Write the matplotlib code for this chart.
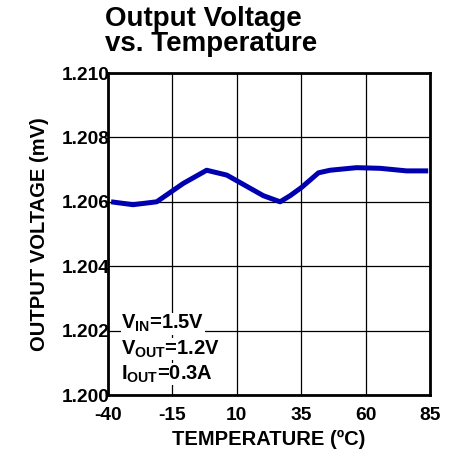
import matplotlib
matplotlib.use("Agg")
import matplotlib.pyplot as plt

plt.rcParams["font.family"] = ["Liberation Sans", "DejaVu Sans"]
plt.rcParams["mathtext.fontset"] = "custom"
plt.rcParams["mathtext.rm"] = "Liberation Sans:bold"
plt.rcParams["mathtext.it"] = "Liberation Sans:bold"
plt.rcParams["axes.unicode_minus"] = False

# curve
temp_c = [-38.8, -30.3, -21.1, -10.8, -1.7, 6.1, 20.3, 26.8, 30.7, 35.2,
          41.7, 46.2, 56.5, 65.6, 75.9, 84.3]
vout = [1.2060, 1.20591, 1.2060, 1.20657, 1.20698, 1.20683, 1.20619, 1.2060,
        1.20619, 1.20645, 1.2069, 1.20698, 1.20706, 1.20704, 1.20696, 1.20696]

x_ticks = [-40, -15, 10, 35, 60, 85]
y_ticks = [1.200, 1.202, 1.204, 1.206, 1.208, 1.210]
notes = [r"$\mathrm{V_{IN}}$=1.5V", r"$\mathrm{V_{OUT}}$=1.2V", r"$\mathrm{I_{OUT}}$=0.3A"]
note_y = [1.20221, 1.20143, 1.20065]

fig = plt.figure(figsize=(4.53, 4.62), dpi=100)
ax = fig.add_axes([108 / 453, 67 / 462, 322 / 453, 322 / 462])

ax.plot(temp_c, vout, color="#0000b0", linewidth=3.6, solid_capstyle="butt", zorder=3)

ax.set_xlim(-40, 85)
ax.set_ylim(1.200, 1.210)
ax.set_xticks(x_ticks)
ax.set_yticks(y_ticks)
ax.set_yticklabels([f"{v:.3f}" for v in y_ticks])
ax.tick_params(length=0, labelsize=13.8, pad=-1)
ax.tick_params(axis="x", pad=9)
for lab in ax.get_xticklabels() + ax.get_yticklabels():
    lab.set_fontweight("bold")
ax.grid(True, color="black", linewidth=0.9)
for s in ax.spines.values():
    s.set_linewidth(2)

ax.set_xlabel("TEMPERATURE (ºC)", fontsize=14.5, fontweight="bold", labelpad=4)
ax.set_ylabel("OUTPUT VOLTAGE (mV)", fontsize=14.5, fontweight="bold", labelpad=9)

for t, y in zip(notes, note_y):
    ax.text(-34.8, y, t, fontsize=14.5, fontweight="bold",
            va="center", ha="left", zorder=4,
            bbox=dict(facecolor="white", edgecolor="none", pad=0.5))

fig.text(105 / 453, 1 - 6 / 462, "Output Voltage\nvs. Temperature", fontsize=20,
         fontweight="bold", ha="left", va="top", linespacing=0.95)

fig.savefig("out.png", dpi=100)
